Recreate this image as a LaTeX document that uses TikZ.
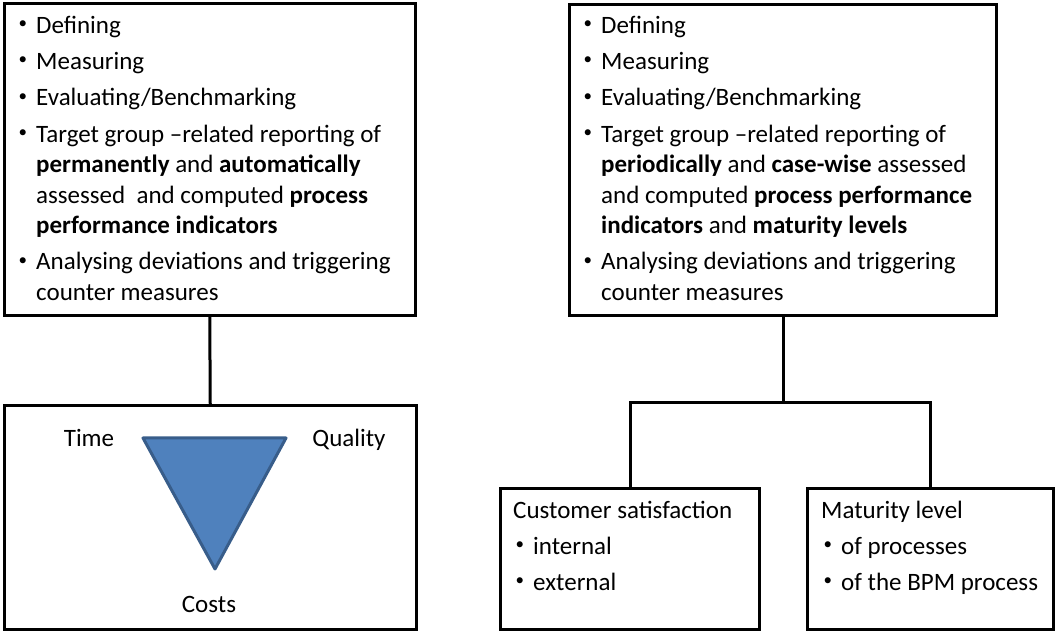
\documentclass[tikz,border=0pt]{standalone}
\usepackage{fontspec}
\setmainfont{Carlito}
\newcommand{\bul}{\makebox[20pt][l]{\hspace{2.5pt}\raisebox{4.5pt}{\fontsize{17}{17}\selectfont\textbullet}}}
\newcommand{\ind}{\hspace*{20pt}}
\newcommand{\fstrut}{\rule{0pt}{20pt}}
\definecolor{triblue}{HTML}{4F81BD}
\definecolor{triedge}{HTML}{385D8A}
\begin{document}
\begin{tikzpicture}[x=1pt,y=1pt,
  box/.style={draw=black,line width=3pt,inner sep=0pt,anchor=north west},
  txt/.style={inner sep=0pt,anchor=north west,align=left,font=\fontsize{25}{30.5}\selectfont},
  lbl/.style={inner sep=0pt,anchor=base,font=\fontsize{25}{30.5}\selectfont},
  conn/.style={draw=black,line width=3pt}]
\useasboundingbox (0,0) rectangle (1056,631);
% boxes (y = 631 - pixel y)
\node[box,minimum width=411.5pt,minimum height=311.5pt] (lt) at (2.5,628.5) {};
\node[box,minimum width=427pt,minimum height=311pt] (rt) at (568,628) {};
\node[box,minimum width=412.5pt,minimum height=224pt] (lb) at (2.5,227) {};
\node[box,minimum width=259pt,minimum height=141pt] (cs) at (499,144) {};
\node[box,minimum width=246pt,minimum height=141pt] (ml) at (806,144) {};
% connectors
\draw[conn] (lt.south) -- (lb.north);
\coordinate (j) at (rt.south |- 0,228);
\draw[conn] (rt.south) -- (j);
\draw[conn] (cs.north) |- (j) -| (ml.north);
% texts
\node[txt] (ltt) at (16,618) {\fstrut\bul Defining\\[5.8pt]
\bul Measuring\\[5.8pt]
\bul Evaluating/Benchmarking\\[5.8pt]
\bul Target group –related reporting of\\
\ind\textbf{permanently} and \textbf{automatically}\\
\ind assessed\ \ and computed \textbf{process}\\
\ind\textbf{performance indicators}\\[5.8pt]
\bul Analysing deviations and triggering\\
\ind counter measures};
\node[txt] (rtt) at (581,618) {\fstrut\bul Defining\\[5.8pt]
\bul Measuring\\[5.8pt]
\bul Evaluating/Benchmarking\\[5.8pt]
\bul Target group –related reporting of\\
\ind\textbf{periodically} and \textbf{case-wise} assessed\\
\ind and computed \textbf{process performance}\\
\ind\textbf{indicators} and \textbf{maturity levels}\\[5.8pt]
\bul Analysing deviations and triggering\\
\ind counter measures};
\node[txt] (cst) at (513,133) {\fstrut Customer satisfaction\\[5.5pt]
\bul internal\\[5.5pt]
\bul external};
\node[txt] (mlt) at (821,133) {\fstrut Maturity level\\[5.5pt]
\bul of processes\\[5.5pt]
\bul of the BPM process};
% triangle
\coordinate (ta) at (143,193);
\coordinate (tb) at (286,193);
\coordinate (tc) at (215,62);
\draw[fill=triblue,draw=triedge,line width=3pt,line join=round] (ta) -- (tb) -- (tc) -- cycle;
\node[lbl] (time) at (89,184) {Time};
\node[lbl] (quality) at (349,184) {Quality};
\node[lbl] (costs) at (209,19) {Costs};
\end{tikzpicture}
\end{document}
